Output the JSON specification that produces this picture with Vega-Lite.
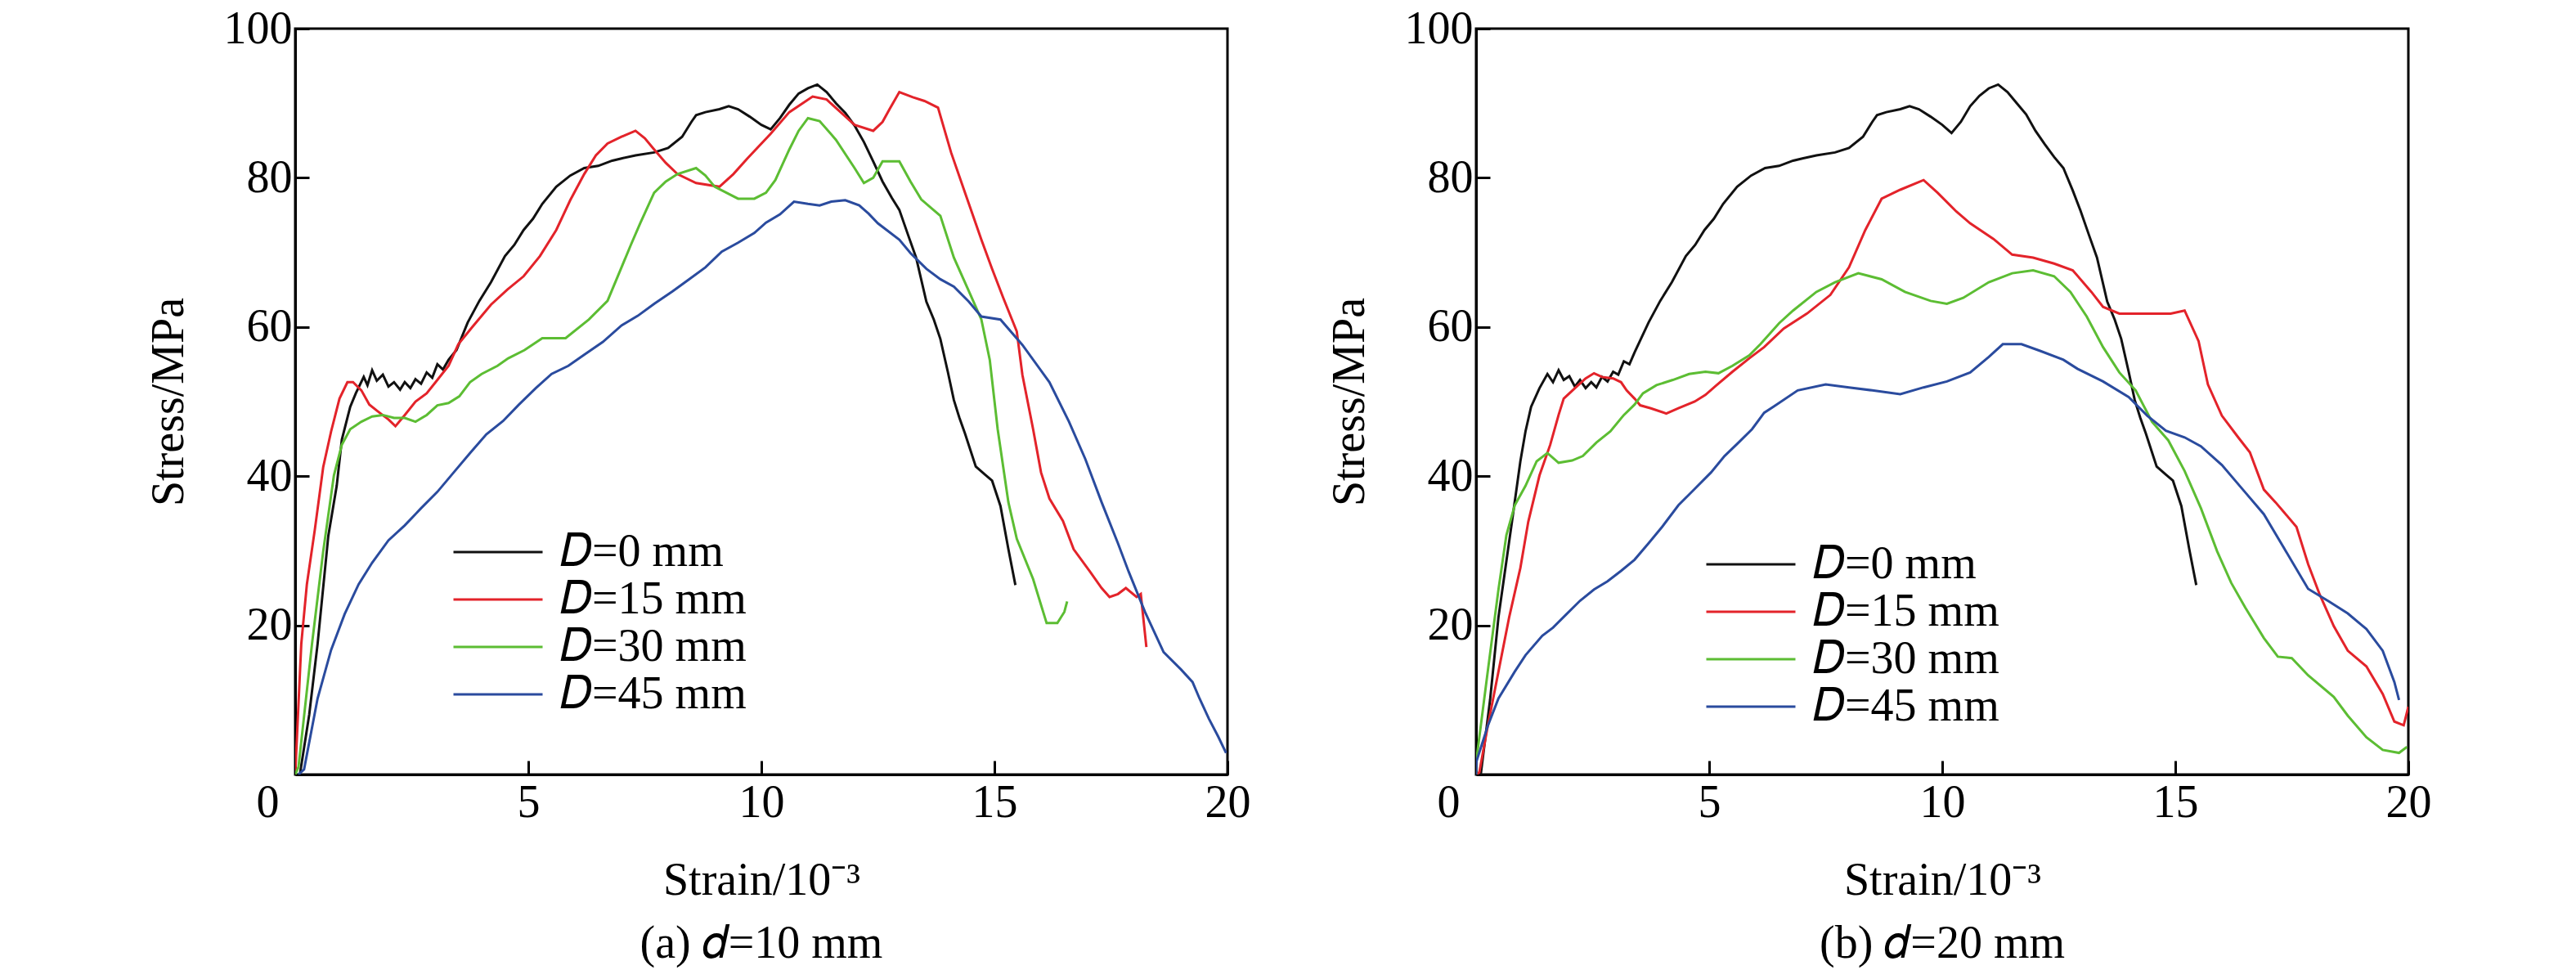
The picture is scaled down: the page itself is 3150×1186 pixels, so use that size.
{
  "$schema": "https://vega.github.io/schema/vega-lite/v6.json",
  "background": "white",
  "padding": {"left": 176, "top": 5, "right": 0, "bottom": 0},
  "spacing": 89,
  "config": {
    "font": "Liberation Serif",
    "view": {"stroke": "black", "strokeWidth": 3},
    "axis": {"grid": false, "domainColor": "black", "domainWidth": 3, "tickColor": "black", "tickWidth": 3, "tickSize": -17, "labelFont": "Liberation Serif", "labelFontSize": 56, "labelColor": "black", "titleFont": "Liberation Serif", "titleFontSize": 56, "titleFontWeight": "normal", "titleColor": "black"},
    "legend": {"labelFont": "Liberation Serif", "labelFontSize": 56, "labelColor": "black", "labelLimit": 0, "symbolType": "stroke", "symbolSize": 11881, "symbolStrokeWidth": 3, "labelOffset": 20, "padding": 0, "rowPadding": 2, "clipHeight": 56},
    "title": {"font": "Liberation Serif", "fontSize": 56, "fontWeight": "normal", "color": "black"}
  },
  "resolve": {"legend": {"color": "independent"}},
  "datasets": {
    "a": [
      {"s":"D=0 mm","x":0.1,"y":0},{"s":"D=0 mm","x":0.3,"y":8},{"s":"D=0 mm","x":0.48,"y":17.5},{"s":"D=0 mm","x":0.71,"y":32},{"s":"D=0 mm","x":0.89,"y":38.7},{"s":"D=0 mm","x":1.0,"y":44.9},{"s":"D=0 mm","x":1.18,"y":49.3},{"s":"D=0 mm","x":1.3,"y":51.1},{"s":"D=0 mm","x":1.47,"y":53.3},{"s":"D=0 mm","x":1.55,"y":52.2},{"s":"D=0 mm","x":1.65,"y":54.2},{"s":"D=0 mm","x":1.75,"y":52.8},{"s":"D=0 mm","x":1.88,"y":53.6},{"s":"D=0 mm","x":2.0,"y":52.0},{"s":"D=0 mm","x":2.12,"y":52.6},{"s":"D=0 mm","x":2.25,"y":51.6},{"s":"D=0 mm","x":2.35,"y":52.6},{"s":"D=0 mm","x":2.47,"y":51.8},{"s":"D=0 mm","x":2.58,"y":53.0},{"s":"D=0 mm","x":2.7,"y":52.4},{"s":"D=0 mm","x":2.82,"y":53.9},{"s":"D=0 mm","x":2.94,"y":53.2},{"s":"D=0 mm","x":3.05,"y":55.0},{"s":"D=0 mm","x":3.17,"y":54.3},{"s":"D=0 mm","x":3.29,"y":55.6},{"s":"D=0 mm","x":3.46,"y":56.9},{"s":"D=0 mm","x":3.7,"y":60.6},{"s":"D=0 mm","x":3.95,"y":63.5},{"s":"D=0 mm","x":4.2,"y":66},{"s":"D=0 mm","x":4.5,"y":69.5},{"s":"D=0 mm","x":4.7,"y":71.0},{"s":"D=0 mm","x":4.9,"y":73},{"s":"D=0 mm","x":5.1,"y":74.5},{"s":"D=0 mm","x":5.3,"y":76.5},{"s":"D=0 mm","x":5.6,"y":78.8},{"s":"D=0 mm","x":5.9,"y":80.3},{"s":"D=0 mm","x":6.2,"y":81.3},{"s":"D=0 mm","x":6.5,"y":81.6},{"s":"D=0 mm","x":6.8,"y":82.3},{"s":"D=0 mm","x":7.0,"y":82.6},{"s":"D=0 mm","x":7.3,"y":83.0},{"s":"D=0 mm","x":7.7,"y":83.4},{"s":"D=0 mm","x":8.0,"y":84.0},{"s":"D=0 mm","x":8.3,"y":85.5},{"s":"D=0 mm","x":8.5,"y":87.5},{"s":"D=0 mm","x":8.6,"y":88.4},{"s":"D=0 mm","x":8.8,"y":88.8},{"s":"D=0 mm","x":9.1,"y":89.2},{"s":"D=0 mm","x":9.3,"y":89.6},{"s":"D=0 mm","x":9.5,"y":89.2},{"s":"D=0 mm","x":9.75,"y":88.2},{"s":"D=0 mm","x":10.0,"y":87.1},{"s":"D=0 mm","x":10.2,"y":86.5},{"s":"D=0 mm","x":10.4,"y":88},{"s":"D=0 mm","x":10.6,"y":89.8},{"s":"D=0 mm","x":10.8,"y":91.3},{"s":"D=0 mm","x":11.0,"y":92.0},{"s":"D=0 mm","x":11.2,"y":92.5},{"s":"D=0 mm","x":11.4,"y":91.5},{"s":"D=0 mm","x":11.6,"y":90},{"s":"D=0 mm","x":11.8,"y":88.7},{"s":"D=0 mm","x":12.0,"y":87},{"s":"D=0 mm","x":12.2,"y":84.8},{"s":"D=0 mm","x":12.4,"y":82.2},{"s":"D=0 mm","x":12.6,"y":79.5},{"s":"D=0 mm","x":12.8,"y":77.3},{"s":"D=0 mm","x":12.96,"y":75.7},{"s":"D=0 mm","x":13.15,"y":72.3},{"s":"D=0 mm","x":13.32,"y":69.3},{"s":"D=0 mm","x":13.54,"y":63.4},{"s":"D=0 mm","x":13.7,"y":61},{"s":"D=0 mm","x":13.84,"y":58.4},{"s":"D=0 mm","x":14.0,"y":54},{"s":"D=0 mm","x":14.13,"y":50.2},{"s":"D=0 mm","x":14.25,"y":47.8},{"s":"D=0 mm","x":14.37,"y":45.7},{"s":"D=0 mm","x":14.6,"y":41.3},{"s":"D=0 mm","x":14.8,"y":40.2},{"s":"D=0 mm","x":14.95,"y":39.4},{"s":"D=0 mm","x":15.13,"y":36},{"s":"D=0 mm","x":15.3,"y":30.2},{"s":"D=0 mm","x":15.45,"y":25.4},
      {"s":"D=15 mm","x":0,"y":0},{"s":"D=15 mm","x":0.13,"y":17.5},{"s":"D=15 mm","x":0.25,"y":25.5},{"s":"D=15 mm","x":0.42,"y":32.8},{"s":"D=15 mm","x":0.6,"y":41.2},{"s":"D=15 mm","x":0.77,"y":46},{"s":"D=15 mm","x":0.95,"y":50.4},{"s":"D=15 mm","x":1.12,"y":52.6},{"s":"D=15 mm","x":1.24,"y":52.6},{"s":"D=15 mm","x":1.42,"y":51.5},{"s":"D=15 mm","x":1.59,"y":49.6},{"s":"D=15 mm","x":1.77,"y":48.7},{"s":"D=15 mm","x":2.0,"y":47.6},{"s":"D=15 mm","x":2.15,"y":46.7},{"s":"D=15 mm","x":2.35,"y":48.2},{"s":"D=15 mm","x":2.58,"y":50},{"s":"D=15 mm","x":2.82,"y":51.1},{"s":"D=15 mm","x":3.05,"y":52.9},{"s":"D=15 mm","x":3.29,"y":54.8},{"s":"D=15 mm","x":3.5,"y":57.7},{"s":"D=15 mm","x":3.8,"y":60},{"s":"D=15 mm","x":4.2,"y":63},{"s":"D=15 mm","x":4.55,"y":65},{"s":"D=15 mm","x":4.9,"y":66.8},{"s":"D=15 mm","x":5.25,"y":69.5},{"s":"D=15 mm","x":5.6,"y":73},{"s":"D=15 mm","x":5.9,"y":77},{"s":"D=15 mm","x":6.2,"y":80.5},{"s":"D=15 mm","x":6.45,"y":83},{"s":"D=15 mm","x":6.7,"y":84.6},{"s":"D=15 mm","x":7.0,"y":85.5},{"s":"D=15 mm","x":7.3,"y":86.3},{"s":"D=15 mm","x":7.5,"y":85.3},{"s":"D=15 mm","x":7.7,"y":83.8},{"s":"D=15 mm","x":7.95,"y":82},{"s":"D=15 mm","x":8.2,"y":80.5},{"s":"D=15 mm","x":8.6,"y":79.3},{"s":"D=15 mm","x":9.1,"y":78.8},{"s":"D=15 mm","x":9.4,"y":80.5},{"s":"D=15 mm","x":9.7,"y":82.6},{"s":"D=15 mm","x":10.2,"y":85.9},{"s":"D=15 mm","x":10.6,"y":88.8},{"s":"D=15 mm","x":11.1,"y":90.9},{"s":"D=15 mm","x":11.4,"y":90.5},{"s":"D=15 mm","x":11.7,"y":88.8},{"s":"D=15 mm","x":12.0,"y":87.1},{"s":"D=15 mm","x":12.4,"y":86.3},{"s":"D=15 mm","x":12.6,"y":87.5},{"s":"D=15 mm","x":12.75,"y":89.2},{"s":"D=15 mm","x":12.96,"y":91.5},{"s":"D=15 mm","x":13.25,"y":90.8},{"s":"D=15 mm","x":13.5,"y":90.3},{"s":"D=15 mm","x":13.79,"y":89.4},{"s":"D=15 mm","x":14.07,"y":83.4},{"s":"D=15 mm","x":14.37,"y":78},{"s":"D=15 mm","x":14.72,"y":71.7},{"s":"D=15 mm","x":14.95,"y":67.8},{"s":"D=15 mm","x":15.19,"y":63.9},{"s":"D=15 mm","x":15.48,"y":59.4},{"s":"D=15 mm","x":15.6,"y":53.6},{"s":"D=15 mm","x":15.83,"y":46.3},{"s":"D=15 mm","x":16.0,"y":40.5},{"s":"D=15 mm","x":16.18,"y":37},{"s":"D=15 mm","x":16.47,"y":34},{"s":"D=15 mm","x":16.7,"y":30.2},{"s":"D=15 mm","x":17.05,"y":27.2},{"s":"D=15 mm","x":17.3,"y":25},{"s":"D=15 mm","x":17.47,"y":23.8},{"s":"D=15 mm","x":17.65,"y":24.2},{"s":"D=15 mm","x":17.82,"y":25},{"s":"D=15 mm","x":18.05,"y":23.8},{"s":"D=15 mm","x":18.14,"y":24.2},{"s":"D=15 mm","x":18.26,"y":17.1},
      {"s":"D=30 mm","x":0,"y":0},{"s":"D=30 mm","x":0.07,"y":1},{"s":"D=30 mm","x":0.36,"y":17.5},{"s":"D=30 mm","x":0.6,"y":29.9},{"s":"D=30 mm","x":0.83,"y":40.1},{"s":"D=30 mm","x":1.0,"y":44.2},{"s":"D=30 mm","x":1.18,"y":46.3},{"s":"D=30 mm","x":1.42,"y":47.3},{"s":"D=30 mm","x":1.65,"y":48},{"s":"D=30 mm","x":1.88,"y":48.2},{"s":"D=30 mm","x":2.12,"y":47.8},{"s":"D=30 mm","x":2.35,"y":47.8},{"s":"D=30 mm","x":2.58,"y":47.3},{"s":"D=30 mm","x":2.82,"y":48.2},{"s":"D=30 mm","x":3.05,"y":49.5},{"s":"D=30 mm","x":3.29,"y":49.8},{"s":"D=30 mm","x":3.52,"y":50.7},{"s":"D=30 mm","x":3.75,"y":52.6},{"s":"D=30 mm","x":4.0,"y":53.7},{"s":"D=30 mm","x":4.34,"y":54.8},{"s":"D=30 mm","x":4.57,"y":55.8},{"s":"D=30 mm","x":4.92,"y":56.9},{"s":"D=30 mm","x":5.3,"y":58.5},{"s":"D=30 mm","x":5.8,"y":58.5},{"s":"D=30 mm","x":6.3,"y":61},{"s":"D=30 mm","x":6.7,"y":63.5},{"s":"D=30 mm","x":7.0,"y":68},{"s":"D=30 mm","x":7.2,"y":71},{"s":"D=30 mm","x":7.4,"y":73.9},{"s":"D=30 mm","x":7.7,"y":78},{"s":"D=30 mm","x":7.95,"y":79.5},{"s":"D=30 mm","x":8.2,"y":80.5},{"s":"D=30 mm","x":8.6,"y":81.3},{"s":"D=30 mm","x":8.8,"y":80.3},{"s":"D=30 mm","x":9.0,"y":78.8},{"s":"D=30 mm","x":9.5,"y":77.2},{"s":"D=30 mm","x":9.85,"y":77.2},{"s":"D=30 mm","x":10.1,"y":78},{"s":"D=30 mm","x":10.3,"y":79.7},{"s":"D=30 mm","x":10.6,"y":83.8},{"s":"D=30 mm","x":10.8,"y":86.3},{"s":"D=30 mm","x":11.0,"y":88},{"s":"D=30 mm","x":11.25,"y":87.6},{"s":"D=30 mm","x":11.6,"y":85.1},{"s":"D=30 mm","x":12.0,"y":81.3},{"s":"D=30 mm","x":12.2,"y":79.3},{"s":"D=30 mm","x":12.4,"y":80},{"s":"D=30 mm","x":12.6,"y":82.2},{"s":"D=30 mm","x":12.96,"y":82.2},{"s":"D=30 mm","x":13.2,"y":79.5},{"s":"D=30 mm","x":13.43,"y":77.1},{"s":"D=30 mm","x":13.84,"y":74.9},{"s":"D=30 mm","x":14.13,"y":69.3},{"s":"D=30 mm","x":14.48,"y":64.4},{"s":"D=30 mm","x":14.72,"y":61},{"s":"D=30 mm","x":14.9,"y":55.6},{"s":"D=30 mm","x":15.07,"y":46.3},{"s":"D=30 mm","x":15.3,"y":36.5},{"s":"D=30 mm","x":15.48,"y":31.6},{"s":"D=30 mm","x":15.83,"y":26.2},{"s":"D=30 mm","x":16.12,"y":20.3},{"s":"D=30 mm","x":16.35,"y":20.3},{"s":"D=30 mm","x":16.5,"y":21.8},{"s":"D=30 mm","x":16.56,"y":23.2},
      {"s":"D=45 mm","x":0.07,"y":0},{"s":"D=45 mm","x":0.19,"y":0.7},{"s":"D=45 mm","x":0.48,"y":10.2},{"s":"D=45 mm","x":0.77,"y":16.7},{"s":"D=45 mm","x":1.06,"y":21.5},{"s":"D=45 mm","x":1.36,"y":25.5},{"s":"D=45 mm","x":1.65,"y":28.4},{"s":"D=45 mm","x":2.0,"y":31.4},{"s":"D=45 mm","x":2.35,"y":33.4},{"s":"D=45 mm","x":2.7,"y":35.7},{"s":"D=45 mm","x":3.05,"y":37.9},{"s":"D=45 mm","x":3.4,"y":40.5},{"s":"D=45 mm","x":3.75,"y":43.1},{"s":"D=45 mm","x":4.1,"y":45.6},{"s":"D=45 mm","x":4.46,"y":47.4},{"s":"D=45 mm","x":4.8,"y":49.6},{"s":"D=45 mm","x":5.16,"y":51.8},{"s":"D=45 mm","x":5.5,"y":53.7},{"s":"D=45 mm","x":5.86,"y":54.8},{"s":"D=45 mm","x":6.18,"y":56.2},{"s":"D=45 mm","x":6.6,"y":58},{"s":"D=45 mm","x":7.0,"y":60.2},{"s":"D=45 mm","x":7.35,"y":61.5},{"s":"D=45 mm","x":7.7,"y":63.1},{"s":"D=45 mm","x":8.1,"y":64.8},{"s":"D=45 mm","x":8.45,"y":66.4},{"s":"D=45 mm","x":8.8,"y":68},{"s":"D=45 mm","x":9.15,"y":70.1},{"s":"D=45 mm","x":9.5,"y":71.3},{"s":"D=45 mm","x":9.85,"y":72.6},{"s":"D=45 mm","x":10.1,"y":74},{"s":"D=45 mm","x":10.4,"y":75.1},{"s":"D=45 mm","x":10.7,"y":76.8},{"s":"D=45 mm","x":11.0,"y":76.5},{"s":"D=45 mm","x":11.25,"y":76.3},{"s":"D=45 mm","x":11.5,"y":76.8},{"s":"D=45 mm","x":11.8,"y":77},{"s":"D=45 mm","x":12.1,"y":76.3},{"s":"D=45 mm","x":12.3,"y":75.2},{"s":"D=45 mm","x":12.5,"y":73.9},{"s":"D=45 mm","x":12.96,"y":71.7},{"s":"D=45 mm","x":13.2,"y":69.9},{"s":"D=45 mm","x":13.54,"y":67.8},{"s":"D=45 mm","x":13.84,"y":66.4},{"s":"D=45 mm","x":14.13,"y":65.4},{"s":"D=45 mm","x":14.45,"y":63.4},{"s":"D=45 mm","x":14.72,"y":61.4},{"s":"D=45 mm","x":15.13,"y":61},{"s":"D=45 mm","x":15.6,"y":57.6},{"s":"D=45 mm","x":16.18,"y":52.6},{"s":"D=45 mm","x":16.6,"y":47.3},{"s":"D=45 mm","x":16.95,"y":42.3},{"s":"D=45 mm","x":17.3,"y":36.5},{"s":"D=45 mm","x":17.65,"y":31},{"s":"D=45 mm","x":17.88,"y":27.2},{"s":"D=45 mm","x":18.23,"y":21.8},{"s":"D=45 mm","x":18.63,"y":16.4},{"s":"D=45 mm","x":19.0,"y":14.1},{"s":"D=45 mm","x":19.25,"y":12.4},{"s":"D=45 mm","x":19.4,"y":10.2},{"s":"D=45 mm","x":19.6,"y":7.5},{"s":"D=45 mm","x":19.8,"y":5.1},{"s":"D=45 mm","x":19.97,"y":2.9}
    ],
    "b": [
      {"s":"D=0 mm","x":0.1,"y":0},{"s":"D=0 mm","x":0.3,"y":10},{"s":"D=0 mm","x":0.48,"y":21.1},{"s":"D=0 mm","x":0.77,"y":33.9},{"s":"D=0 mm","x":0.95,"y":42},{"s":"D=0 mm","x":1.06,"y":46},{"s":"D=0 mm","x":1.18,"y":49.3},{"s":"D=0 mm","x":1.36,"y":51.8},{"s":"D=0 mm","x":1.53,"y":53.7},{"s":"D=0 mm","x":1.65,"y":52.6},{"s":"D=0 mm","x":1.77,"y":54.2},{"s":"D=0 mm","x":1.88,"y":52.9},{"s":"D=0 mm","x":2.0,"y":53.4},{"s":"D=0 mm","x":2.12,"y":52.0},{"s":"D=0 mm","x":2.23,"y":52.9},{"s":"D=0 mm","x":2.35,"y":51.8},{"s":"D=0 mm","x":2.47,"y":52.6},{"s":"D=0 mm","x":2.58,"y":51.9},{"s":"D=0 mm","x":2.7,"y":53.3},{"s":"D=0 mm","x":2.82,"y":52.7},{"s":"D=0 mm","x":2.94,"y":54.0},{"s":"D=0 mm","x":3.05,"y":53.6},{"s":"D=0 mm","x":3.17,"y":55.4},{"s":"D=0 mm","x":3.29,"y":55.0},{"s":"D=0 mm","x":3.4,"y":56.6},{"s":"D=0 mm","x":3.7,"y":60.6},{"s":"D=0 mm","x":3.95,"y":63.5},{"s":"D=0 mm","x":4.2,"y":66},{"s":"D=0 mm","x":4.5,"y":69.5},{"s":"D=0 mm","x":4.7,"y":71.0},{"s":"D=0 mm","x":4.9,"y":73},{"s":"D=0 mm","x":5.1,"y":74.5},{"s":"D=0 mm","x":5.3,"y":76.5},{"s":"D=0 mm","x":5.6,"y":78.8},{"s":"D=0 mm","x":5.9,"y":80.3},{"s":"D=0 mm","x":6.2,"y":81.3},{"s":"D=0 mm","x":6.5,"y":81.6},{"s":"D=0 mm","x":6.8,"y":82.3},{"s":"D=0 mm","x":7.0,"y":82.6},{"s":"D=0 mm","x":7.3,"y":83.0},{"s":"D=0 mm","x":7.7,"y":83.4},{"s":"D=0 mm","x":8.0,"y":84.0},{"s":"D=0 mm","x":8.3,"y":85.5},{"s":"D=0 mm","x":8.5,"y":87.5},{"s":"D=0 mm","x":8.6,"y":88.4},{"s":"D=0 mm","x":8.8,"y":88.8},{"s":"D=0 mm","x":9.1,"y":89.2},{"s":"D=0 mm","x":9.3,"y":89.6},{"s":"D=0 mm","x":9.5,"y":89.2},{"s":"D=0 mm","x":9.75,"y":88.2},{"s":"D=0 mm","x":10.0,"y":87.1},{"s":"D=0 mm","x":10.2,"y":86.0},{"s":"D=0 mm","x":10.4,"y":87.5},{"s":"D=0 mm","x":10.6,"y":89.6},{"s":"D=0 mm","x":10.8,"y":91.0},{"s":"D=0 mm","x":11.0,"y":92.0},{"s":"D=0 mm","x":11.2,"y":92.5},{"s":"D=0 mm","x":11.4,"y":91.5},{"s":"D=0 mm","x":11.6,"y":90},{"s":"D=0 mm","x":11.8,"y":88.5},{"s":"D=0 mm","x":12.0,"y":86.3},{"s":"D=0 mm","x":12.2,"y":84.5},{"s":"D=0 mm","x":12.4,"y":82.8},{"s":"D=0 mm","x":12.6,"y":81.3},{"s":"D=0 mm","x":12.8,"y":78.3},{"s":"D=0 mm","x":12.96,"y":75.7},{"s":"D=0 mm","x":13.15,"y":72.3},{"s":"D=0 mm","x":13.32,"y":69.3},{"s":"D=0 mm","x":13.54,"y":63.4},{"s":"D=0 mm","x":13.7,"y":61},{"s":"D=0 mm","x":13.84,"y":58.4},{"s":"D=0 mm","x":14.0,"y":54},{"s":"D=0 mm","x":14.13,"y":50.2},{"s":"D=0 mm","x":14.25,"y":47.8},{"s":"D=0 mm","x":14.37,"y":45.7},{"s":"D=0 mm","x":14.6,"y":41.3},{"s":"D=0 mm","x":14.8,"y":40.2},{"s":"D=0 mm","x":14.95,"y":39.4},{"s":"D=0 mm","x":15.13,"y":36},{"s":"D=0 mm","x":15.3,"y":30.2},{"s":"D=0 mm","x":15.45,"y":25.4},
      {"s":"D=15 mm","x":0,"y":0},{"s":"D=15 mm","x":0.07,"y":0.3},{"s":"D=15 mm","x":0.25,"y":6.5},{"s":"D=15 mm","x":0.48,"y":13.8},{"s":"D=15 mm","x":0.71,"y":21.1},{"s":"D=15 mm","x":0.95,"y":27.7},{"s":"D=15 mm","x":1.12,"y":33.9},{"s":"D=15 mm","x":1.36,"y":40.1},{"s":"D=15 mm","x":1.59,"y":44.2},{"s":"D=15 mm","x":1.77,"y":48.2},{"s":"D=15 mm","x":1.88,"y":50.4},{"s":"D=15 mm","x":2.12,"y":51.8},{"s":"D=15 mm","x":2.35,"y":53.1},{"s":"D=15 mm","x":2.53,"y":53.8},{"s":"D=15 mm","x":2.7,"y":53.3},{"s":"D=15 mm","x":2.94,"y":53.1},{"s":"D=15 mm","x":3.11,"y":52.6},{"s":"D=15 mm","x":3.23,"y":51.5},{"s":"D=15 mm","x":3.4,"y":50.4},{"s":"D=15 mm","x":3.52,"y":49.5},{"s":"D=15 mm","x":3.75,"y":49.1},{"s":"D=15 mm","x":4.08,"y":48.4},{"s":"D=15 mm","x":4.34,"y":49.1},{"s":"D=15 mm","x":4.69,"y":50},{"s":"D=15 mm","x":4.92,"y":50.9},{"s":"D=15 mm","x":5.16,"y":52.2},{"s":"D=15 mm","x":5.5,"y":54},{"s":"D=15 mm","x":5.86,"y":55.8},{"s":"D=15 mm","x":6.18,"y":57.3},{"s":"D=15 mm","x":6.6,"y":59.8},{"s":"D=15 mm","x":7.1,"y":61.8},{"s":"D=15 mm","x":7.6,"y":64.3},{"s":"D=15 mm","x":8.0,"y":68},{"s":"D=15 mm","x":8.35,"y":73},{"s":"D=15 mm","x":8.7,"y":77.2},{"s":"D=15 mm","x":9.1,"y":78.4},{"s":"D=15 mm","x":9.6,"y":79.7},{"s":"D=15 mm","x":9.9,"y":78},{"s":"D=15 mm","x":10.3,"y":75.5},{"s":"D=15 mm","x":10.6,"y":73.9},{"s":"D=15 mm","x":11.1,"y":71.8},{"s":"D=15 mm","x":11.5,"y":69.7},{"s":"D=15 mm","x":11.95,"y":69.3},{"s":"D=15 mm","x":12.4,"y":68.5},{"s":"D=15 mm","x":12.8,"y":67.6},{"s":"D=15 mm","x":13.2,"y":64.7},{"s":"D=15 mm","x":13.45,"y":62.7},{"s":"D=15 mm","x":13.8,"y":61.8},{"s":"D=15 mm","x":14.3,"y":61.8},{"s":"D=15 mm","x":14.9,"y":61.8},{"s":"D=15 mm","x":15.2,"y":62.2},{"s":"D=15 mm","x":15.5,"y":58.1},{"s":"D=15 mm","x":15.7,"y":52.3},{"s":"D=15 mm","x":16.0,"y":48.1},{"s":"D=15 mm","x":16.35,"y":45.2},{"s":"D=15 mm","x":16.6,"y":43.2},{"s":"D=15 mm","x":16.9,"y":38.2},{"s":"D=15 mm","x":17.15,"y":36.5},{"s":"D=15 mm","x":17.6,"y":33.2},{"s":"D=15 mm","x":17.85,"y":28.2},{"s":"D=15 mm","x":18.1,"y":24.1},{"s":"D=15 mm","x":18.4,"y":19.9},{"s":"D=15 mm","x":18.7,"y":16.6},{"s":"D=15 mm","x":19.1,"y":14.5},{"s":"D=15 mm","x":19.45,"y":10.8},{"s":"D=15 mm","x":19.7,"y":7.1},{"s":"D=15 mm","x":19.9,"y":6.6},{"s":"D=15 mm","x":20.0,"y":9.1},
      {"s":"D=30 mm","x":0,"y":0},{"s":"D=30 mm","x":0.01,"y":2.1},{"s":"D=30 mm","x":0.25,"y":13.8},{"s":"D=30 mm","x":0.48,"y":24.8},{"s":"D=30 mm","x":0.65,"y":32.1},{"s":"D=30 mm","x":0.83,"y":36.1},{"s":"D=30 mm","x":1.06,"y":38.7},{"s":"D=30 mm","x":1.3,"y":42},{"s":"D=30 mm","x":1.53,"y":43.1},{"s":"D=30 mm","x":1.77,"y":41.8},{"s":"D=30 mm","x":2.06,"y":42.1},{"s":"D=30 mm","x":2.29,"y":42.7},{"s":"D=30 mm","x":2.58,"y":44.5},{"s":"D=30 mm","x":2.88,"y":46},{"s":"D=30 mm","x":3.17,"y":48.2},{"s":"D=30 mm","x":3.4,"y":49.6},{"s":"D=30 mm","x":3.58,"y":51.1},{"s":"D=30 mm","x":3.87,"y":52.2},{"s":"D=30 mm","x":4.22,"y":52.9},{"s":"D=30 mm","x":4.57,"y":53.7},{"s":"D=30 mm","x":4.92,"y":54},{"s":"D=30 mm","x":5.2,"y":53.8},{"s":"D=30 mm","x":5.5,"y":54.8},{"s":"D=30 mm","x":5.86,"y":56.2},{"s":"D=30 mm","x":6.1,"y":57.7},{"s":"D=30 mm","x":6.5,"y":60.5},{"s":"D=30 mm","x":6.8,"y":62.2},{"s":"D=30 mm","x":7.3,"y":64.7},{"s":"D=30 mm","x":7.7,"y":66},{"s":"D=30 mm","x":8.2,"y":67.2},{"s":"D=30 mm","x":8.7,"y":66.4},{"s":"D=30 mm","x":9.2,"y":64.7},{"s":"D=30 mm","x":9.75,"y":63.5},{"s":"D=30 mm","x":10.1,"y":63.1},{"s":"D=30 mm","x":10.45,"y":63.9},{"s":"D=30 mm","x":11.0,"y":66},{"s":"D=30 mm","x":11.5,"y":67.2},{"s":"D=30 mm","x":11.95,"y":67.6},{"s":"D=30 mm","x":12.4,"y":66.8},{"s":"D=30 mm","x":12.75,"y":64.7},{"s":"D=30 mm","x":13.1,"y":61.4},{"s":"D=30 mm","x":13.45,"y":57.3},{"s":"D=30 mm","x":13.8,"y":53.9},{"s":"D=30 mm","x":14.15,"y":51.5},{"s":"D=30 mm","x":14.5,"y":47.3},{"s":"D=30 mm","x":14.85,"y":44.8},{"s":"D=30 mm","x":15.2,"y":40.7},{"s":"D=30 mm","x":15.55,"y":35.7},{"s":"D=30 mm","x":15.9,"y":29.9},{"s":"D=30 mm","x":16.2,"y":25.7},{"s":"D=30 mm","x":16.5,"y":22.4},{"s":"D=30 mm","x":16.9,"y":18.3},{"s":"D=30 mm","x":17.2,"y":15.8},{"s":"D=30 mm","x":17.5,"y":15.6},{"s":"D=30 mm","x":17.85,"y":13.3},{"s":"D=30 mm","x":18.4,"y":10.4},{"s":"D=30 mm","x":18.7,"y":7.9},{"s":"D=30 mm","x":19.1,"y":5},{"s":"D=30 mm","x":19.45,"y":3.3},{"s":"D=30 mm","x":19.8,"y":2.9},{"s":"D=30 mm","x":19.97,"y":3.7},
      {"s":"D=45 mm","x":0,"y":0},{"s":"D=45 mm","x":0.01,"y":1.8},{"s":"D=45 mm","x":0.25,"y":6.5},{"s":"D=45 mm","x":0.48,"y":10.2},{"s":"D=45 mm","x":0.83,"y":13.8},{"s":"D=45 mm","x":1.06,"y":16},{"s":"D=45 mm","x":1.42,"y":18.6},{"s":"D=45 mm","x":1.65,"y":19.7},{"s":"D=45 mm","x":1.94,"y":21.5},{"s":"D=45 mm","x":2.23,"y":23.3},{"s":"D=45 mm","x":2.53,"y":24.8},{"s":"D=45 mm","x":2.82,"y":25.9},{"s":"D=45 mm","x":3.11,"y":27.3},{"s":"D=45 mm","x":3.4,"y":28.8},{"s":"D=45 mm","x":3.7,"y":31},{"s":"D=45 mm","x":3.99,"y":33.2},{"s":"D=45 mm","x":4.34,"y":36.1},{"s":"D=45 mm","x":4.69,"y":38.3},{"s":"D=45 mm","x":5.04,"y":40.5},{"s":"D=45 mm","x":5.33,"y":42.7},{"s":"D=45 mm","x":5.63,"y":44.5},{"s":"D=45 mm","x":5.92,"y":46.3},{"s":"D=45 mm","x":6.18,"y":48.5},{"s":"D=45 mm","x":6.4,"y":49.4},{"s":"D=45 mm","x":6.9,"y":51.5},{"s":"D=45 mm","x":7.5,"y":52.3},{"s":"D=45 mm","x":8.0,"y":51.9},{"s":"D=45 mm","x":8.5,"y":51.5},{"s":"D=45 mm","x":9.1,"y":51},{"s":"D=45 mm","x":9.6,"y":51.9},{"s":"D=45 mm","x":10.1,"y":52.7},{"s":"D=45 mm","x":10.6,"y":53.9},{"s":"D=45 mm","x":11.0,"y":56},{"s":"D=45 mm","x":11.3,"y":57.7},{"s":"D=45 mm","x":11.7,"y":57.7},{"s":"D=45 mm","x":12.1,"y":56.8},{"s":"D=45 mm","x":12.6,"y":55.6},{"s":"D=45 mm","x":12.9,"y":54.4},{"s":"D=45 mm","x":13.45,"y":52.7},{"s":"D=45 mm","x":14.0,"y":50.6},{"s":"D=45 mm","x":14.4,"y":48.1},{"s":"D=45 mm","x":14.8,"y":46.1},{"s":"D=45 mm","x":15.2,"y":45.2},{"s":"D=45 mm","x":15.55,"y":44},{"s":"D=45 mm","x":16.0,"y":41.5},{"s":"D=45 mm","x":16.45,"y":38.2},{"s":"D=45 mm","x":16.9,"y":34.9},{"s":"D=45 mm","x":17.3,"y":30.7},{"s":"D=45 mm","x":17.85,"y":24.9},{"s":"D=45 mm","x":18.3,"y":23.2},{"s":"D=45 mm","x":18.7,"y":21.6},{"s":"D=45 mm","x":19.1,"y":19.5},{"s":"D=45 mm","x":19.45,"y":16.6},{"s":"D=45 mm","x":19.7,"y":12.4},{"s":"D=45 mm","x":19.8,"y":10}
    ]
  },
  "hconcat": [
    {
      "width": 1140, "height": 912,
      "data": {"name": "a"},
      "title": {"text": "(a) 𝑑=10 mm", "orient": "bottom", "anchor": "middle", "offset": 23},
      "mark": {"type": "line", "strokeWidth": 3, "clip": true},
      "encoding": {
        "x": {"field": "x", "type": "quantitative", "scale": {"domain": [0, 20], "nice": false},
              "axis": {"values": [0, 5, 10, 15, 20], "title": "Strain/10⁻³", "labelFont": "Liberation Serif", "labelFlush": false, "labelPadding": 24, "titlePadding": 40,
                       "labelOffset": {"condition": {"test": "datum.value === 0", "value": -34}, "value": 0}}},
        "y": {"field": "y", "type": "quantitative", "scale": {"domain": [0, 100], "nice": false},
              "axis": {"values": [20, 40, 60, 80, 100], "title": "Stress/MPa", "labelFont": "Liberation Serif", "labelPadding": 21, "titlePadding": 38}},
        "color": {"field": "s", "type": "nominal",
                  "scale": {"domain": ["D=0 mm", "D=15 mm", "D=30 mm", "D=45 mm"], "range": ["#111111", "#e3232a", "#5cbd33", "#2a4b9e"]},
                  "legend": {"orient": "none", "legendX": 192, "legendY": 612, "title": null, "labelExpr": "replace(datum.label, 'D', '𝐷')"}}
      }
    },
    {
      "width": 1140, "height": 912,
      "data": {"name": "b"},
      "title": {"text": "(b) 𝑑=20 mm", "orient": "bottom", "anchor": "middle", "offset": 23},
      "mark": {"type": "line", "strokeWidth": 3, "clip": true},
      "encoding": {
        "x": {"field": "x", "type": "quantitative", "scale": {"domain": [0, 20], "nice": false},
              "axis": {"values": [0, 5, 10, 15, 20], "title": "Strain/10⁻³", "labelFont": "Liberation Serif", "labelFlush": false, "labelPadding": 24, "titlePadding": 40,
                       "labelOffset": {"condition": {"test": "datum.value === 0", "value": -34}, "value": 0}}},
        "y": {"field": "y", "type": "quantitative", "scale": {"domain": [0, 100], "nice": false},
              "axis": {"values": [20, 40, 60, 80, 100], "title": "Stress/MPa", "labelFont": "Liberation Serif", "labelPadding": 21, "titlePadding": 38}},
        "color": {"field": "s", "type": "nominal",
                  "scale": {"domain": ["D=0 mm", "D=15 mm", "D=30 mm", "D=45 mm"], "range": ["#111111", "#e3232a", "#5cbd33", "#2a4b9e"]},
                  "legend": {"orient": "none", "legendX": 280, "legendY": 627, "title": null, "labelExpr": "replace(datum.label, 'D', '𝐷')"}}
      }
    }
  ]
}
